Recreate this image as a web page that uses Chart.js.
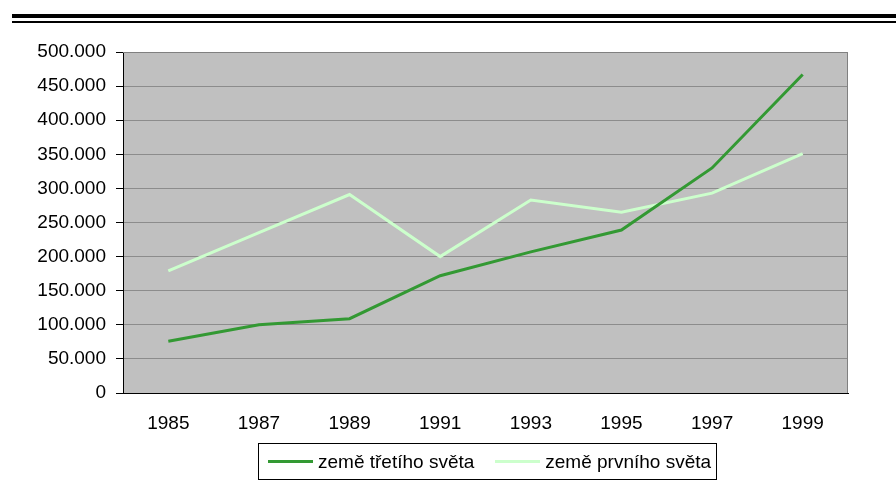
<!DOCTYPE html>
<html>
<head>
<meta charset="utf-8">
<script src="https://cdn.jsdelivr.net/npm/chart.js@4.4.0/dist/chart.umd.min.js"></script>
<style>
  html, body { margin: 0; padding: 0; background: #fff; }
  #wrap { position: relative; width: 896px; height: 490px; font-family: 'Liberation Sans', Arial, sans-serif; }
  .rule { position: absolute; left: 12px; right: 0; background: #000; }
  #legend {
    position: absolute; left: 258px; top: 443px; width: 457px; height: 35px;
    border: 1px solid #000; box-sizing: content-box;
    display: flex; align-items: center; font-size: 19px; color: #000; white-space: nowrap;
  }
  .item { display: flex; align-items: center; }
  .swatch { width: 45px; height: 3px; margin: 0 5px 0 0; }
</style>
</head>
<body>
<div id="wrap">
  <div class="rule" style="top:14px;height:4px;"></div>
  <div class="rule" style="top:21px;height:2px;"></div>
  <canvas id="chart" width="896" height="490"></canvas>
  <div id="legend"></div>
</div>
<script>
// --- Data ---
const years = ['1985', '1987', '1989', '1991', '1993', '1995', '1997', '1999'];
const thirdWorld = [76000, 100000, 109000, 172000, 207000, 239000, 330000, 467000];
const firstWorld = [179000, 235000, 291000, 200000, 283000, 265000, 293000, 351000];
const seriesNames = ['země třetího světa', 'země prvního světa'];
const seriesColors = ['#339933', '#ccffcc'];

const FONT = "'Liberation Sans', Arial, sans-serif";
const FS = 19;

// thousands with a dot: 500000 -> 500.000
function fmt(v) {
    return String(v).replace(/\B(?=(\d{3})+(?!\d))/g, '.');
}

// grey plot area with thin frame
const plotBg = {
    id: 'plotBg',
    beforeDraw(chart) {
        const a = chart.chartArea;
        const ctx = chart.ctx;
        ctx.save();
        ctx.fillStyle = '#c0c0c0';
        ctx.fillRect(a.left, a.top, a.right - a.left, a.bottom - a.top);
        ctx.restore();
    },
    afterDatasetsDraw(chart) {
        const a = chart.chartArea;
        const ctx = chart.ctx;
        ctx.save();
        ctx.strokeStyle = '#808080';
        ctx.lineWidth = 1;
        ctx.beginPath();
        ctx.moveTo(a.left, a.top + 0.5);
        ctx.lineTo(a.right - 0.5, a.top + 0.5);
        ctx.lineTo(a.right - 0.5, a.bottom);
        ctx.stroke();
        ctx.restore();
    }
};

const chart = new Chart(document.getElementById('chart'), {
    type: 'line',
    data: {
        labels: years,
        datasets: [thirdWorld, firstWorld].map((d, i) => ({
            label: seriesNames[i],
            data: d,
            borderColor: seriesColors[i],
            backgroundColor: seriesColors[i],
            borderWidth: 3,
            pointRadius: 0,
            tension: 0
        }))
    },
    options: {
        responsive: false,
        animation: false,
        layout: { padding: { top: 52, right: 48, left: 0, bottom: 0 } },
        scales: {
            x: {
                offset: true,
                grid: { display: false },
                border: { display: true, color: '#000', width: 1 },
                ticks: { color: '#000', padding: 11, maxRotation: 0, font: { family: FONT, size: FS } },
                afterFit(scale) { scale.height = 97; }
            },
            y: {
                min: 0,
                max: 500000,
                ticks: {
                    stepSize: 50000,
                    color: '#000',
                    padding: 10,
                    font: { family: FONT, size: FS },
                    callback: v => fmt(v)
                },
                grid: { color: '#8c8c8c', tickColor: '#000', tickLength: 7, lineWidth: 1 },
                border: { display: true, color: '#000', width: 1 },
                afterFit(scale) { scale.width = 123; }
            }
        },
        plugins: {
            legend: { display: false },
            tooltip: { enabled: false }
        }
    },
    plugins: [plotBg]
});

// legend box under the plot, built from the datasets
const legendEl = document.getElementById('legend');
chart.data.datasets.forEach((ds, i) => {
    const item = document.createElement('div');
    item.className = 'item';
    item.style.marginLeft = i === 0 ? '9px' : '21px';
    item.innerHTML = `<span class="swatch" style="background:${ds.borderColor}"></span><span>${ds.label}</span>`;
    legendEl.appendChild(item);
});
</script>
</body>
</html>
